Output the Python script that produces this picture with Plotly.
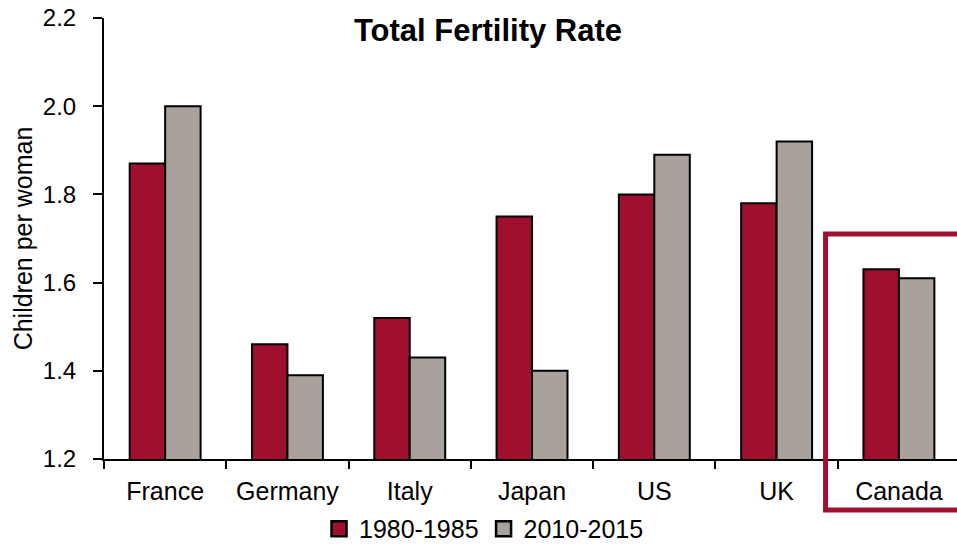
import plotly.graph_objects as go

countries = ["France", "Germany", "Italy", "Japan", "US", "UK", "Canada"]
tfr_1980 = [1.87, 1.46, 1.52, 1.75, 1.80, 1.78, 1.63]
tfr_2010 = [2.00, 1.39, 1.43, 1.40, 1.89, 1.92, 1.61]
y_ticks = [1.2, 1.4, 1.6, 1.8, 2.0, 2.2]

red = "#9f0f2e"
grey = "#a9a29c"
font = "Liberation Sans, Arial, sans-serif"

fig = go.Figure()
fig.add_trace(go.Bar(x=countries, y=tfr_1980, name="1980-1985", showlegend=False,
                     marker=dict(color=red, line=dict(color="black", width=2))))
fig.add_trace(go.Bar(x=countries, y=tfr_2010, name="2010-2015", showlegend=False,
                     marker=dict(color=grey, line=dict(color="black", width=2))))
# legend entries with bigger square swatches
for name, col in [("1980-1985", red), ("2010-2015", grey)]:
    fig.add_trace(go.Scatter(x=[None], y=[None], mode="markers", name=name,
                             marker=dict(symbol="square", size=15, color=col,
                                         line=dict(color="black", width=2.5))))

fig.update_layout(
    width=957, height=544,
    margin=dict(l=104, r=0, t=18, b=85, autoexpand=False),
    paper_bgcolor="white", plot_bgcolor="white",
    font=dict(family=font, color="black", size=24),
    barmode="group", bargap=0.42, bargroupgap=0,
    title=dict(text="<b>Total Fertility Rate</b>", x=488 / 957, xanchor="center",
               y=1 - 30 / 544, yanchor="middle", yref="container",
               font=dict(size=31, family=font, color="black")),
    legend=dict(orientation="h", x=484 / 957, xref="container", xanchor="center",
                y=-0.1587, yref="paper", yanchor="middle",
                font=dict(size=25), itemsizing="trace", itemwidth=30,
                tracegroupgap=0),
)

fig.update_yaxes(
    range=[1.2, 2.2], tickvals=y_ticks, ticktext=[f"{v:.1f}" for v in y_ticks],
    showgrid=False, zeroline=False, showline=True, linecolor="black", linewidth=2,
    ticks="outside", ticklen=9, tickwidth=2, tickcolor="black",
    ticklabelstandoff=12, tickfont=dict(size=24), automargin=False,
    title=dict(text="Children per woman", font=dict(size=25), standoff=3),
)
fig.update_xaxes(
    range=[-0.5, 6.475], showgrid=False, showline=True, linecolor="black", linewidth=2,
    ticks="outside", tickson="boundaries", ticklen=8, tickwidth=2, tickcolor="black",
    ticklabelstandoff=9, tickfont=dict(size=25), automargin=False,
)

# highlight box around Canada
fig.add_shape(type="rect", xref="paper", yref="paper",
              x0=0.8459, x1=1.03, y0=-0.1156, y1=0.5102,
              line=dict(color=red, width=5), fillcolor="rgba(0,0,0,0)")

fig.write_html("out.html", config={"displayModeBar": False},
               post_script="document.body.style.margin = '0';")
